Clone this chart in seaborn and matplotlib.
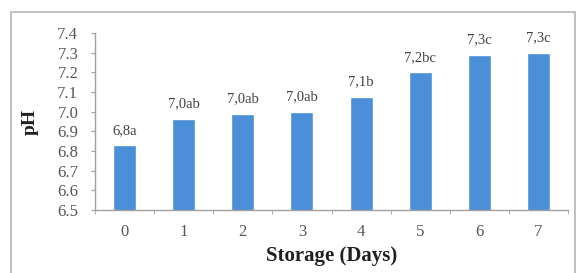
import matplotlib
matplotlib.use("Agg")
import matplotlib.pyplot as plt
import seaborn as sns
import pandas as pd
from matplotlib.patches import Rectangle

days = ["0", "1", "2", "3", "4", "5", "6", "7"]
ph_values = [6.83, 6.965, 6.99, 7.00, 7.075, 7.20, 7.29, 7.30]
bar_labels = ["6,8a", "7,0ab", "7,0ab", "7,0ab", "7,1b", "7,2bc", "7,3c", "7,3c"]
y_ticks = [6.5, 6.6, 6.7, 6.8, 6.9, 7.0, 7.1, 7.2, 7.3, 7.4]

sns.set_style("white")
plt.rcParams["font.family"] = ["Liberation Serif", "DejaVu Serif"]

df = pd.DataFrame({"Day": days, "pH": ph_values})

W, H = 581, 273
fig = plt.figure(figsize=(W / 100, H / 100), dpi=100)
ax = fig.add_axes([95 / W, (H - 210) / H, (568 - 95) / W, (210 - 33) / H])

# outer frame
fig.patches.append(Rectangle((11 / W, -0.05), (575 - 11) / W, (H - 12) / H + 0.05,
                             transform=fig.transFigure, fill=False,
                             edgecolor="#b5b5b5", linewidth=1.2))

sns.barplot(data=df, x="Day", y="pH", color="#4A8FD8", saturation=1,
            width=0.39, ax=ax)

ax.set_ylim(6.5, 7.4)
ax.set_xlim(-0.5, 7.5)
ax.set_yticks(y_ticks)
ax.set_yticklabels([f"{v:.1f}" for v in y_ticks])

for i, (v, lab) in enumerate(zip(ph_values, bar_labels)):
    ax.annotate(lab, (i, v), xytext=(0, 6), textcoords="offset points",
                ha="center", va="bottom", fontsize=10.5, color="#404040")

for s in ["top", "right"]:
    ax.spines[s].set_visible(False)
for s in ["left", "bottom"]:
    ax.spines[s].set_color("#a0a0a0")
    ax.spines[s].set_linewidth(1.0)

ax.tick_params(axis="y", length=3, color="#a0a0a0", labelsize=12,
               labelcolor="#555555", pad=9, direction="out", left=True)
ax.tick_params(axis="x", length=0, labelsize=12, labelcolor="#555555", pad=10)
# category separator ticks
ax.set_xticks([i + 0.5 for i in range(-1, 8)], minor=True)
ax.tick_params(axis="x", which="minor", length=3, color="#a0a0a0",
               direction="out", bottom=True)

ax.set_xlabel("Storage (Days)", fontsize=15, fontweight="bold",
              color="#202020")
ax.set_ylabel("pH", fontsize=14, fontweight="bold", color="#202020")
ax.xaxis.set_label_coords(0.501, -0.26)
ax.yaxis.set_label_coords(-0.137, 0.50)
ax.xaxis.label.set_va("center")
ax.yaxis.label.set_va("center")

fig.savefig("out.png", dpi=100)
